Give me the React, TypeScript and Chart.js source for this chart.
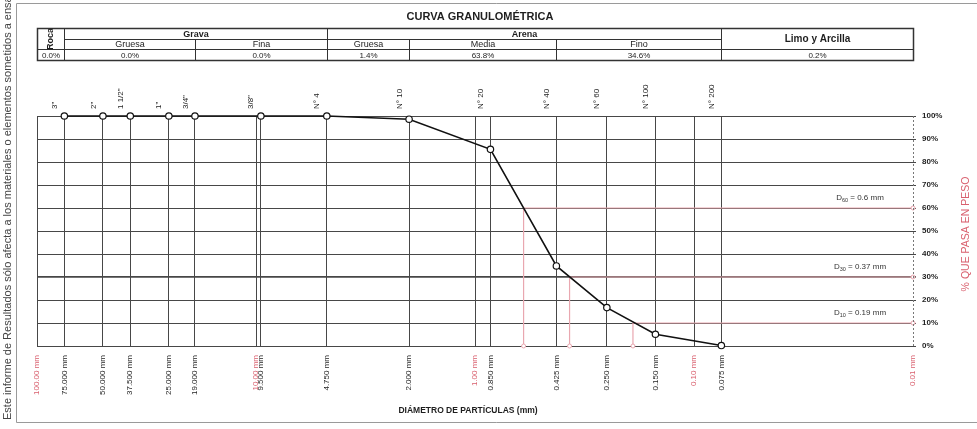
import React, { useEffect, useRef } from "react";
import { Chart, registerables } from "chart.js";

Chart.register(...registerables);

// ---------- DATA ----------
const sieveNames = ['3"', '2"', '1 1/2"', '1"', '3/4"', '3/8"', "N° 4", "N° 10", "N° 20", "N° 40", "N° 60", "N° 100", "N° 200"];
const sieveSizes = [75, 50, 37.5, 25, 19, 9.5, 4.75, 2, 0.85, 0.425, 0.25, 0.15, 0.075];
const percentPassing = [100, 100, 100, 100, 100, 100, 100, 98.6, 85.5, 34.8, 16.7, 5.1, 0.2];

const diameterTicks = [100, 75, 50, 37.5, 25, 19, 10, 9.5, 4.75, 2, 1, 0.85, 0.425, 0.25, 0.15, 0.1, 0.075, 0.01];
const diameterLabels = [
  "100.00 mm", "75.000 mm", "50.000 mm", "37.500 mm", "25.000 mm", "19.000 mm", "10.00 mm", "9.500 mm",
  "4.750 mm", "2.000 mm", "1.00 mm", "0.850 mm", "0.425 mm", "0.250 mm", "0.150 mm", "0.10 mm", "0.075 mm", "0.01 mm",
];
const decadeTicks = [100, 10, 1, 0.1, 0.01];

const dNames = ["60", "30", "10"];
const dSizes = [0.6, 0.37, 0.19];
const dPercents = [60, 30, 10];
const dTexts = ["0.6 mm", "0.37 mm", "0.19 mm"];

const tableGroups = ["Grava", "Arena"];
const tableClassNames = ["Gruesa", "Fina", "Gruesa", "Media", "Fino"];
const tableClassValues = ["0.0%", "0.0%", "1.4%", "63.8%", "34.6%"];
const tableBounds = [100, 75, 19, 4.75, 2, 0.425, 0.075, 0.01];
const rocaName = "Roca";
const rocaValue = "0.0%";
const limoName = "Limo y Arcilla";
const limoValue = "0.2%";

const chartTitle = "CURVA GRANULOMÉTRICA";
const xTitle = "DIÁMETRO DE PARTÍCULAS (mm)";
const yTitle = "% QUE PASA EN PESO";
const sideNote = "Este informe de Resultados sólo afecta a los materiales o elementos sometidos a ensayo";

const X_MIN = 0.01;
const X_MAX = 100;

// ---------- STYLE ----------
const FONT = "'Liberation Sans', Arial, sans-serif";
const RED = "#d9606e";
const PINK = "#e9a7b0";
const GRID = "#474747";
const INK = "#1e1e1e";

const decorPlugin = {
  id: "decor",
  afterDraw(chart: any) {
    const ctx: CanvasRenderingContext2D = chart.ctx;
    const xs = chart.scales.x;
    const ys = chart.scales.y;
    const ca = chart.chartArea;
    const px = (v: number) => xs.getPixelForValue(v);

    ctx.save();

    // outer frame
    ctx.strokeStyle = "#9a9a9a";
    ctx.lineWidth = 1;
    ctx.beginPath();
    ctx.moveTo(16.5, 3.5);
    ctx.lineTo(977, 3.5);
    ctx.moveTo(16.5, 3.5);
    ctx.lineTo(16.5, 422.5);
    ctx.lineTo(977, 422.5);
    ctx.stroke();

    // side note
    ctx.save();
    ctx.translate(8, 420);
    ctx.rotate(-Math.PI / 2);
    ctx.fillStyle = "#444";
    ctx.font = `11px ${FONT}`;
    ctx.textAlign = "left";
    ctx.textBaseline = "middle";
    ctx.fillText(sideNote, 0, 0);
    ctx.restore();

    // title
    ctx.fillStyle = INK;
    ctx.font = `bold 11px ${FONT}`;
    ctx.textAlign = "center";
    ctx.textBaseline = "middle";
    ctx.fillText(chartTitle, 480, 17);

    // table
    const T = 28.5, R1 = 39.5, R2 = 49.5, B = 60.5;
    const b = tableBounds.map((v) => Math.round(px(v)) + 0.5);
    ctx.strokeStyle = "#333";
    ctx.lineWidth = 1;
    ctx.beginPath();
    ctx.moveTo(b[0], R2); ctx.lineTo(b[7], R2);
    ctx.moveTo(b[1], R1); ctx.lineTo(b[6], R1);
    [1, 3, 6].forEach((k) => { ctx.moveTo(b[k], T); ctx.lineTo(b[k], B); });
    [2, 4, 5].forEach((k) => { ctx.moveTo(b[k], R1); ctx.lineTo(b[k], B); });
    ctx.stroke();
    ctx.lineWidth = 1.5;
    ctx.strokeRect(b[0], T, b[7] - b[0], B - T);

    ctx.fillStyle = INK;
    ctx.textBaseline = "middle";
    ctx.textAlign = "center";
    ctx.font = `bold 9px ${FONT}`;
    ctx.fillText(tableGroups[0], (b[1] + b[3]) / 2, (T + R1) / 2 + 0.5);
    ctx.fillText(tableGroups[1], (b[3] + b[6]) / 2, (T + R1) / 2 + 0.5);
    ctx.font = `bold 10px ${FONT}`;
    ctx.fillText(limoName, (b[6] + b[7]) / 2, (T + R2) / 2);
    ctx.font = `9px ${FONT}`;
    tableClassNames.forEach((n, i) => {
      ctx.fillText(n, (b[i + 1] + b[i + 2]) / 2, (R1 + R2) / 2 + 0.5);
    });
    ctx.font = `8px ${FONT}`;
    tableClassValues.forEach((v, i) => {
      ctx.fillText(v, (b[i + 1] + b[i + 2]) / 2, (R2 + B) / 2 + 0.5);
    });
    ctx.fillText(rocaValue, (b[0] + b[1]) / 2, (R2 + B) / 2 + 0.5);
    ctx.fillText(limoValue, (b[6] + b[7]) / 2, (R2 + B) / 2 + 0.5);
    ctx.save();
    ctx.beginPath();
    ctx.rect(b[0], T, b[1] - b[0], R2 - T);
    ctx.clip();
    ctx.translate((b[0] + b[1]) / 2, (T + R2) / 2);
    ctx.rotate(-Math.PI / 2);
    ctx.font = `bold 9px ${FONT}`;
    ctx.fillText(rocaName, 0, 0);
    ctx.restore();

    // dotted right edge
    ctx.strokeStyle = "#777";
    ctx.lineWidth = 1;
    ctx.setLineDash([2, 2]);
    ctx.beginPath();
    ctx.moveTo(Math.round(ca.right) + 0.5, ca.top);
    ctx.lineTo(Math.round(ca.right) + 0.5, ca.bottom);
    ctx.stroke();
    ctx.setLineDash([]);

    // D labels
    dNames.forEach((n, i) => {
      const y = ys.getPixelForValue(dPercents[i]) - 10;
      const cx = 860;
      ctx.font = `8px ${FONT}`;
      const wD = ctx.measureText("D").width;
      const rest = " = " + dTexts[i];
      const wR = ctx.measureText(rest).width;
      ctx.font = `5.5px ${FONT}`;
      const wS = ctx.measureText(n).width;
      const total = wD + wS + wR;
      let x = cx - total / 2;
      ctx.fillStyle = "#333";
      ctx.textAlign = "left";
      ctx.textBaseline = "middle";
      ctx.font = `8px ${FONT}`;
      ctx.fillText("D", x, y);
      x += wD;
      ctx.font = `5.5px ${FONT}`;
      ctx.fillText(n, x, y + 2);
      x += wS;
      ctx.font = `8px ${FONT}`;
      ctx.fillText(rest, x, y);
    });

    // y title
    ctx.save();
    ctx.translate(966, (ca.top + ca.bottom) / 2 + 3);
    ctx.rotate(-Math.PI / 2);
    ctx.fillStyle = RED;
    ctx.font = `10.5px ${FONT}`;
    ctx.textAlign = "center";
    ctx.textBaseline = "middle";
    ctx.fillText(yTitle, 0, 0);
    ctx.restore();

    // x title
    ctx.fillStyle = INK;
    ctx.font = `bold 8.5px ${FONT}`;
    ctx.textAlign = "center";
    ctx.textBaseline = "middle";
    ctx.fillText(xTitle, 468, 411);

    ctx.restore();
  },
};

export default function App() {
  const ref = useRef<HTMLCanvasElement | null>(null);

  useEffect(() => {
    if (!ref.current) return;
    const chart = new Chart(ref.current, {
      type: "line",
      data: {
        datasets: [
          ...dSizes.map((d, i) => ({
            label: "D" + dNames[i],
            data: [
              { x: d, y: 0 },
              { x: d, y: dPercents[i] },
              { x: X_MIN, y: dPercents[i] },
            ],
            borderColor: PINK,
            borderWidth: 1.2,
            pointRadius: [2, 0, 2],
            pointBackgroundColor: "#fff",
            pointBorderColor: PINK,
            pointBorderWidth: 1,
            tension: 0,
            clip: false as any,
            order: 2,
          })),
          {
            label: "Curva granulométrica",
            data: sieveSizes.map((s, i) => ({ x: s, y: percentPassing[i] })),
            borderColor: "#111",
            borderWidth: 1.6,
            pointRadius: 3.2,
            pointBackgroundColor: "#fff",
            pointBorderColor: "#111",
            pointBorderWidth: 1.2,
            tension: 0,
            clip: false as any,
            order: 1,
          },
        ],
      },
      options: {
        responsive: false,
        animation: false,
        layout: { padding: { left: 37, right: 0, top: 0, bottom: 0 } },
        plugins: {
          legend: { display: false },
          tooltip: { enabled: false },
        },
        scales: {
          x: {
            type: "logarithmic",
            reverse: true,
            min: X_MIN,
            max: X_MAX,
            position: "bottom",
            afterBuildTicks: (s: any) => {
              s.ticks = diameterTicks.map((v) => ({ value: v }));
            },
            afterFit: (s: any) => {
              s.height = 83;
            },
            grid: {
              color: (c: any) => (c.tick && c.tick.value === X_MIN ? "rgba(0,0,0,0)" : GRID),
              lineWidth: 1,
              drawTicks: false,
            },
            border: { display: false },
            ticks: {
              autoSkip: false,
              minRotation: 90,
              maxRotation: 90,
              padding: 9,
              font: { size: 8, family: FONT },
              color: (c: any) => (c.tick && decadeTicks.includes(c.tick.value) ? RED : INK),
              callback: (_v: any, i: number) => diameterLabels[i],
            },
          },
          x2: {
            type: "logarithmic",
            reverse: true,
            min: X_MIN,
            max: X_MAX,
            position: "top",
            afterBuildTicks: (s: any) => {
              s.ticks = sieveSizes.map((v) => ({ value: v }));
            },
            afterFit: (s: any) => {
              s.height = 116;
            },
            grid: { display: false, drawTicks: false },
            border: { display: false },
            ticks: {
              autoSkip: false,
              minRotation: 90,
              maxRotation: 90,
              padding: 7,
              font: { size: 8, family: FONT },
              color: INK,
              callback: (_v: any, i: number) => sieveNames[i],
            },
          },
          y: {
            type: "linear",
            position: "right",
            min: 0,
            max: 100,
            afterFit: (s: any) => {
              s.width = 64;
            },
            grid: {
              color: GRID,
              lineWidth: (c: any) => (c.tick && c.tick.value === 30 ? 1.8 : 1),
              drawTicks: true,
              tickLength: 3,
            },
            border: { display: false },
            ticks: {
              stepSize: 10,
              padding: 6,
              font: { size: 8, weight: "bold", family: FONT },
              color: INK,
              callback: (v: any) => v + "%",
            },
          },
        },
      } as any,
      plugins: [decorPlugin],
    });
    return () => chart.destroy();
  }, []);

  return (
    <div style={{ position: "absolute", left: 0, top: 0, width: 977, height: 429, background: "#fff" }}>
      <canvas ref={ref} width={977} height={429} style={{ display: "block" }} />
    </div>
  );
}
